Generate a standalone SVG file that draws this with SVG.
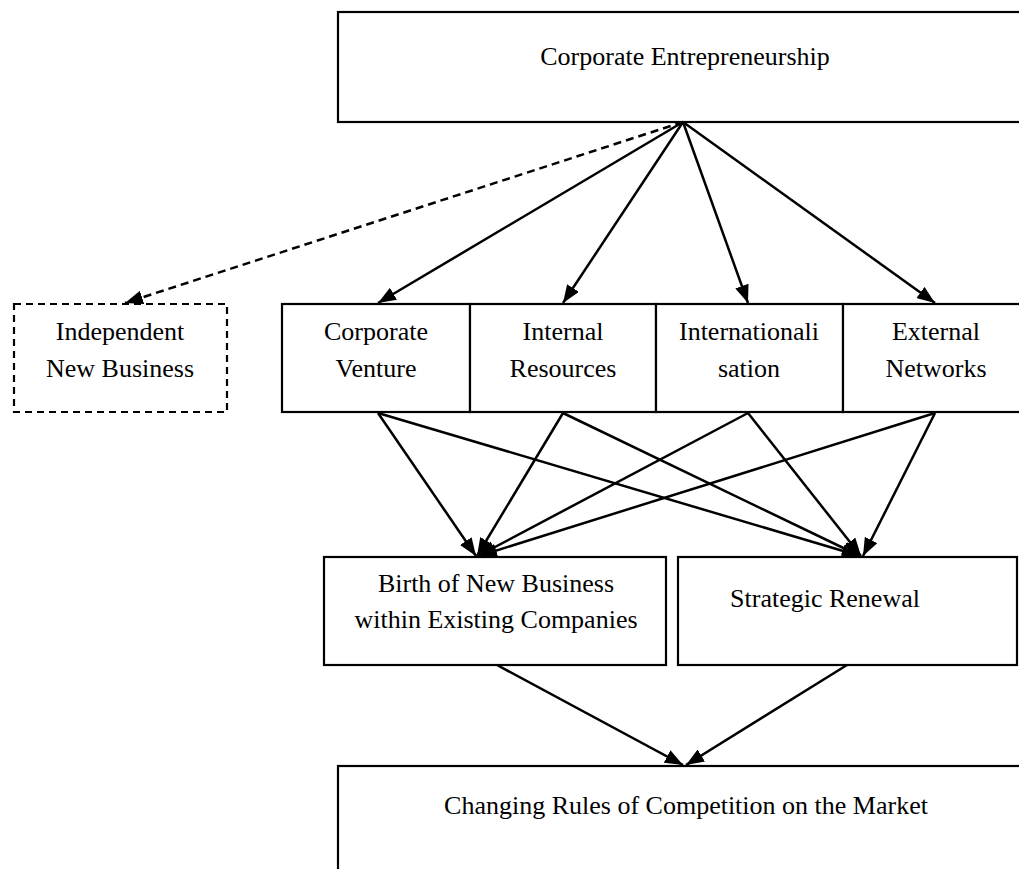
<svg xmlns="http://www.w3.org/2000/svg" width="1019" height="869" viewBox="0 0 1019 869">
  <style>
    .box { fill: #ffffff; stroke: #000000; stroke-width: 2.2; }
    .dash { fill: #ffffff; stroke: #000000; stroke-width: 2.2; stroke-dasharray: 7 5; }
    .lbl { font-family: "Liberation Serif", "Times New Roman", serif; font-size: 26px; fill: #000000; text-anchor: middle; }
    .edge { stroke: #000000; stroke-width: 2.5; fill: none; marker-end: url(#head); }
    .edge-dash { stroke: #000000; stroke-width: 2.5; fill: none; stroke-dasharray: 8 5; marker-end: url(#head); }
  </style>
  <defs>
    <marker id="head" viewBox="0 0 18 14" refX="18" refY="7" markerWidth="18" markerHeight="14" markerUnits="userSpaceOnUse" orient="auto">
      <path d="M0,0 L18,7 L0,14 z" fill="#000000"/>
    </marker>
  </defs>
  <rect width="1019" height="869" fill="#ffffff"/>

  <g id="corporate-entrepreneurship">
    <rect class="box" x="338" y="12" width="700" height="110"/>
    <text class="lbl" x="685" y="65">Corporate Entrepreneurship</text>
  </g>

  <g id="independent-new-business">
    <rect class="dash" x="14" y="304" width="213" height="108"/>
    <text class="lbl" x="120" y="340">Independent</text>
    <text class="lbl" x="120" y="377">New Business</text>
  </g>

  <g id="corporate-venture">
    <rect class="box" x="282" y="304" width="188" height="108"/>
    <text class="lbl" x="376" y="340">Corporate</text>
    <text class="lbl" x="376" y="377">Venture</text>
  </g>

  <g id="internal-resources">
    <rect class="box" x="470" y="304" width="186" height="108"/>
    <text class="lbl" x="563" y="340">Internal</text>
    <text class="lbl" x="563" y="377">Resources</text>
  </g>

  <g id="internationalisation">
    <rect class="box" x="656" y="304" width="187" height="108"/>
    <text class="lbl" x="749" y="340">Internationali</text>
    <text class="lbl" x="749" y="377">sation</text>
  </g>

  <g id="external-networks">
    <rect class="box" x="843" y="304" width="190" height="108"/>
    <text class="lbl" x="936" y="340">External</text>
    <text class="lbl" x="936" y="377">Networks</text>
  </g>

  <g id="birth-of-new-business">
    <rect class="box" x="324" y="557" width="342" height="108"/>
    <text class="lbl" x="496" y="592">Birth of New Business</text>
    <text class="lbl" x="496" y="628">within Existing Companies</text>
  </g>

  <g id="strategic-renewal">
    <rect class="box" x="678" y="557" width="339" height="108"/>
    <text class="lbl" x="825" y="607">Strategic Renewal</text>
  </g>

  <g id="changing-rules">
    <rect class="box" x="338" y="766" width="700" height="120"/>
    <text class="lbl" x="686" y="814">Changing Rules of Competition on the Market</text>
  </g>

  <g id="connectors">
    <line class="edge-dash" x1="683" y1="122" x2="125" y2="303"/>
    <line class="edge" x1="683" y1="122" x2="378" y2="303"/>
    <line class="edge" x1="683" y1="122" x2="563" y2="303"/>
    <line class="edge" x1="683" y1="122" x2="748" y2="303"/>
    <line class="edge" x1="683" y1="122" x2="935" y2="303"/>

    <line class="edge" x1="378" y1="413" x2="476" y2="556"/>
    <line class="edge" x1="378" y1="413" x2="860" y2="556"/>
    <line class="edge" x1="563" y1="413" x2="477" y2="556"/>
    <line class="edge" x1="563" y1="413" x2="860" y2="556"/>
    <line class="edge" x1="748" y1="413" x2="478" y2="556"/>
    <line class="edge" x1="748" y1="413" x2="861" y2="556"/>
    <line class="edge" x1="935" y1="413" x2="479" y2="556"/>
    <line class="edge" x1="935" y1="413" x2="863" y2="556"/>

    <line class="edge" x1="497" y1="665" x2="683" y2="765"/>
    <line class="edge" x1="847" y1="665" x2="686" y2="765"/>
  </g>
</svg>
